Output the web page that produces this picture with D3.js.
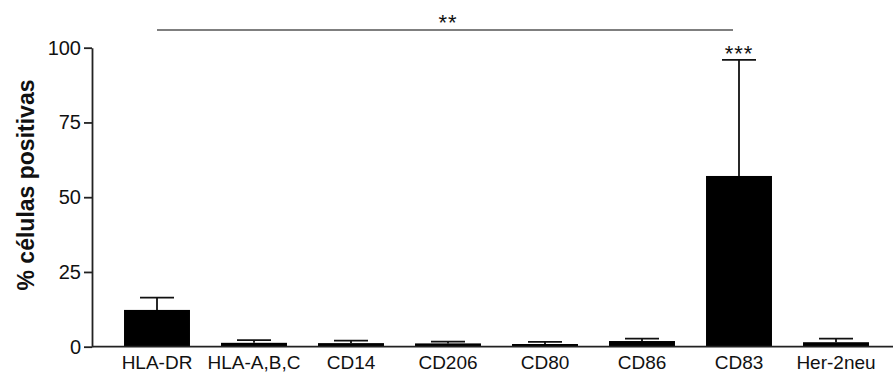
<!DOCTYPE html>
<html>
<head>
<meta charset="utf-8">
<script src="https://cdn.jsdelivr.net/npm/d3@7"></script>
<style>
  body { margin: 0; background: #fff; }
  svg { display: block; font-family: "Liberation Sans", Arial, sans-serif; }
</style>
</head>
<body>
<svg width="893" height="372"></svg>
<script>
// data
var markers = ["HLA-DR", "HLA-A,B,C", "CD14", "CD206", "CD80", "CD86", "CD83", "Her-2neu"];
var means = [12.3, 1.3, 1.2, 1.1, 0.9, 1.9, 57.1, 1.5];
var errTop = [16.4, 2.2, 2.0, 1.7, 1.6, 2.7, 95.9, 2.7];
var yTicks = [0, 25, 50, 75, 100];
var stars = [{ marker: "CD83", label: "***" }];
var bracket = { from: "HLA-DR", to: "CD83", label: "**" };

var svg = d3.select("svg");

var x = d3.scaleBand()
    .domain(markers)
    .range([108.5, 884.5])
    .paddingInner(0.32)
    .paddingOuter(0.16);

var y = d3.scaleLinear()
    .domain([0, 100])
    .range([346.7, 47.7]);

// bars
svg.append("g")
  .selectAll("rect")
  .data(markers)
  .join("rect")
    .attr("x", d => x(d))
    .attr("width", x.bandwidth())
    .attr("y", (d, i) => y(means[i]))
    .attr("height", (d, i) => y(0) - y(means[i]))
    .attr("fill", "#000");

// error bars (upper only)
var capW = 34;
var eb = svg.append("g").attr("stroke", "#111").attr("stroke-width", 1.8);
markers.forEach(function(d, i) {
  var cx = x(d) + x.bandwidth() / 2;
  eb.append("line")
      .attr("x1", cx).attr("x2", cx)
      .attr("y1", y(means[i])).attr("y2", y(errTop[i]));
  eb.append("line")
      .attr("x1", cx - capW / 2).attr("x2", cx + capW / 2)
      .attr("y1", y(errTop[i])).attr("y2", y(errTop[i]));
});

// y axis
var yAxis = svg.append("g")
    .attr("transform", "translate(92,0)")
    .call(d3.axisLeft(y).tickValues(yTicks).tickSize(8).tickPadding(3).tickSizeOuter(0));
yAxis.select(".domain").attr("stroke", "#222").attr("stroke-width", 1.8);
yAxis.selectAll(".tick line").attr("stroke", "#222").attr("stroke-width", 1.8);
yAxis.selectAll("text").attr("font-size", 20).attr("fill", "#111")
    .attr("font-family", "Liberation Sans, Arial, sans-serif");

// x axis
svg.append("line")
    .attr("x1", 92).attr("x2", 893)
    .attr("y1", y(0)).attr("y2", y(0))
    .attr("stroke", "#222").attr("stroke-width", 1.8);

svg.append("g")
  .selectAll("text")
  .data(markers)
  .join("text")
    .attr("x", d => x(d) + x.bandwidth() / 2)
    .attr("y", 369)
    .attr("text-anchor", "middle")
    .attr("font-size", 19)
    .attr("fill", "#111")
    .text(d => d);

// y label
svg.append("text")
    .attr("transform", "translate(34,185) rotate(-90)")
    .attr("text-anchor", "middle")
    .attr("font-size", 23)
    .attr("font-weight", "bold")
    .attr("fill", "#111")
    .text("% células positivas");

// significance marks
stars.forEach(function(s) {
  var i = markers.indexOf(s.marker);
  svg.append("text")
      .attr("x", x(s.marker) + x.bandwidth() / 2)
      .attr("y", y(errTop[i]) + 1)
      .attr("text-anchor", "middle")
      .attr("font-size", 22)
      .attr("letter-spacing", 1)
      .attr("fill", "#111")
      .text(s.label);
});

var bx1 = x(bracket.from) + x.bandwidth() / 2;
var bx2 = x(bracket.to) + x.bandwidth() / 2 - 6;
svg.append("line")
    .attr("x1", bx1).attr("x2", bx2)
    .attr("y1", 30).attr("y2", 30)
    .attr("stroke", "#555").attr("stroke-width", 1.4);
svg.append("text")
    .attr("x", (bx1 + bx2) / 2 + 3)
    .attr("y", 30)
    .attr("text-anchor", "middle")
    .attr("font-size", 22)
    .attr("letter-spacing", 1)
    .attr("fill", "#111")
    .text(bracket.label);
</script>
</body>
</html>
